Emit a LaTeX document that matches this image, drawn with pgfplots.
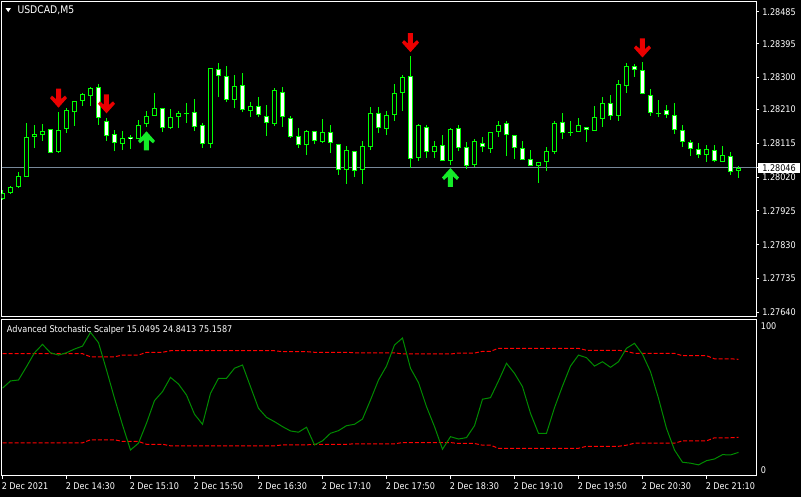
\documentclass[border=0pt]{standalone}
\usepackage{pgfplots}
\pgfplotsset{compat=1.18}
\usepackage{pgfplotstable}
\usepackage{fontspec}
\setmainfont{DejaVu Sans}[FakeStretch=0.88]
\definecolor{cgreen}{RGB}{0,255,0}
\definecolor{stochgreen}{RGB}{0,140,0}
\definecolor{pline}{RGB}{119,136,153}
\definecolor{arrred}{RGB}{235,0,0}
\definecolor{arrgreen}{RGB}{20,235,40}
\newcommand\axfont{\fontsize{6.9}{8}\selectfont}

\pgfdeclareplotmark{dnarrow}{%
 \pgfpathmoveto{\pgfpoint{-1.875pt}{7.125pt}}%
 \pgfpathlineto{\pgfpoint{1.875pt}{7.125pt}}%
 \pgfpathlineto{\pgfpoint{1.875pt}{-0.75pt}}%
 \pgfpathlineto{\pgfpoint{4.875pt}{1.875pt}}%
 \pgfpathlineto{\pgfpoint{6.375pt}{0pt}}%
 \pgfpathlineto{\pgfpoint{0pt}{-7.125pt}}%
 \pgfpathlineto{\pgfpoint{-6.375pt}{0pt}}%
 \pgfpathlineto{\pgfpoint{-4.875pt}{1.875pt}}%
 \pgfpathlineto{\pgfpoint{-1.875pt}{-0.75pt}}%
 \pgfpathclose
 \pgfusepathqfill}
\pgfdeclareplotmark{uparrow}{%
 \pgfpathmoveto{\pgfpoint{-1.875pt}{-7.125pt}}%
 \pgfpathlineto{\pgfpoint{1.875pt}{-7.125pt}}%
 \pgfpathlineto{\pgfpoint{1.875pt}{0.75pt}}%
 \pgfpathlineto{\pgfpoint{4.875pt}{-1.875pt}}%
 \pgfpathlineto{\pgfpoint{6.375pt}{0pt}}%
 \pgfpathlineto{\pgfpoint{0pt}{7.125pt}}%
 \pgfpathlineto{\pgfpoint{-6.375pt}{0pt}}%
 \pgfpathlineto{\pgfpoint{-4.875pt}{-1.875pt}}%
 \pgfpathlineto{\pgfpoint{-1.875pt}{0.75pt}}%
 \pgfpathclose
 \pgfusepathqfill}

\pgfplotstableread{
k O H L C
0 1.27959 1.27984 1.27956 1.27975
1 1.27975 1.27995 1.27973 1.27992
2 1.27992 1.28034 1.27989 1.28023
3 1.28020 1.28172 1.28020 1.28133
4 1.28133 1.28167 1.28102 1.28141
5 1.28138 1.28169 1.28122 1.28150
6 1.28155 1.28155 1.28088 1.28088
7 1.28091 1.28203 1.28088 1.28152
8 1.28155 1.28214 1.28144 1.28209
9 1.28203 1.28234 1.28164 1.28234
10 1.28234 1.28256 1.28220 1.28254
11 1.28248 1.28273 1.28220 1.28271
12 1.28273 1.28282 1.28167 1.28186
13 1.28178 1.28186 1.28122 1.28136
14 1.28141 1.28152 1.28093 1.28116
15 1.28113 1.28150 1.28096 1.28130
16 1.28133 1.28138 1.28099 1.28127
17 1.28127 1.28181 1.28127 1.28167
18 1.28169 1.28206 1.28161 1.28192
19 1.28192 1.28256 1.28192 1.28214
20 1.28214 1.28214 1.28147 1.28158
21 1.28158 1.28212 1.28155 1.28189
22 1.28189 1.28206 1.28158 1.28200
23 1.28197 1.28228 1.28172 1.28200
24 1.28203 1.28240 1.28150 1.28161
25 1.28167 1.28172 1.28102 1.28113
26 1.28113 1.28327 1.28102 1.28327
27 1.28324 1.28341 1.28245 1.28304
28 1.28304 1.28332 1.28231 1.28237
29 1.28237 1.28307 1.28214 1.28276
30 1.28279 1.28313 1.28203 1.28209
31 1.28206 1.28231 1.28189 1.28220
32 1.28220 1.28245 1.28189 1.28195
33 1.28192 1.28223 1.28136 1.28172
34 1.28169 1.28271 1.28164 1.28265
35 1.28259 1.28273 1.28161 1.28189
36 1.28186 1.28192 1.28130 1.28133
37 1.28136 1.28158 1.28102 1.28110
38 1.28110 1.28152 1.28082 1.28150
39 1.28150 1.28150 1.28113 1.28122
40 1.28119 1.28183 1.28116 1.28147
41 1.28147 1.28167 1.28088 1.28116
42 1.28113 1.28113 1.28026 1.28040
43 1.28040 1.28108 1.28001 1.28096
44 1.28093 1.28093 1.28020 1.28037
45 1.28040 1.28122 1.28001 1.28108
46 1.28105 1.28217 1.28096 1.28200
47 1.28200 1.28217 1.28144 1.28158
48 1.28155 1.28206 1.28138 1.28195
49 1.28195 1.28282 1.28178 1.28256
50 1.28256 1.28307 1.28206 1.28302
51 1.28304 1.28360 1.28046 1.28071
52 1.28074 1.28169 1.28065 1.28167
53 1.28161 1.28167 1.28074 1.28091
54 1.28091 1.28122 1.28074 1.28108
55 1.28110 1.28138 1.28065 1.28065
56 1.28065 1.28158 1.28054 1.28155
57 1.28158 1.28167 1.28093 1.28102
58 1.28105 1.28119 1.28043 1.28051
59 1.28054 1.28127 1.28048 1.28122
60 1.28116 1.28133 1.28091 1.28105
61 1.28099 1.28147 1.28088 1.28147
62 1.28147 1.28178 1.28133 1.28167
63 1.28172 1.28178 1.28079 1.28138
64 1.28138 1.28138 1.28071 1.28102
65 1.28102 1.28122 1.28068 1.28068
66 1.28071 1.28096 1.28051 1.28051
67 1.28051 1.28063 1.28004 1.28063
68 1.28063 1.28105 1.28037 1.28093
69 1.28091 1.28178 1.28085 1.28172
70 1.28175 1.28200 1.28127 1.28144
71 1.28147 1.28178 1.28136 1.28144
72 1.28147 1.28186 1.28147 1.28167
73 1.28161 1.28161 1.28119 1.28152
74 1.28150 1.28220 1.28150 1.28189
75 1.28183 1.28245 1.28161 1.28228
76 1.28228 1.28251 1.28181 1.28192
77 1.28192 1.28293 1.28178 1.28282
78 1.28276 1.28341 1.28256 1.28332
79 1.28332 1.28338 1.28302 1.28321
80 1.28321 1.28344 1.28254 1.28254
81 1.28251 1.28268 1.28192 1.28200
82 1.28197 1.28237 1.28189 1.28200
83 1.28209 1.28223 1.28186 1.28195
84 1.28195 1.28228 1.28141 1.28152
85 1.28152 1.28167 1.28105 1.28119
86 1.28119 1.28124 1.28079 1.28099
87 1.28099 1.28116 1.28074 1.28082
88 1.28082 1.28110 1.28063 1.28099
89 1.28096 1.28110 1.28063 1.28065
90 1.28063 1.28108 1.28063 1.28082
91 1.28079 1.28091 1.28026 1.28034
92 1.28037 1.28051 1.28018 1.28046
}\candles

\pgfplotstableread{
k m u l
0 56.5 78.8 21.2
1 61.2 78.8 21.2
2 61.8 78.8 21.2
3 70.4 78.8 21.2
4 79.4 78.8 21.2
5 84.8 78.8 21.2
6 79.4 78.8 21.2
7 77.9 78.8 21.2
8 79.4 78.8 21.2
9 81.8 78.8 21.2
10 83.7 78.8 21.2
11 92.6 76.8 23.2
12 85.9 76.8 23.2
13 68.3 76.8 23.2
14 50.0 76.8 23.2
15 32.8 77.9 22.1
16 16.6 77.9 22.1
17 21.0 77.9 22.1
18 33.9 79.7 20.3
19 48.5 79.7 20.3
20 54.3 79.7 20.3
21 63.5 80.7 19.3
22 59.2 80.7 19.3
23 52.1 80.7 19.3
24 39.7 80.7 19.3
25 33.2 80.7 19.3
26 53.2 80.7 19.3
27 62.9 80.7 19.3
28 62.9 80.7 19.3
29 69.4 80.7 19.3
30 71.5 80.7 19.3
31 57.5 80.7 19.3
32 43.5 80.7 19.3
33 37.7 80.7 19.3
34 34.9 80.7 19.3
35 31.7 80.1 19.9
36 28.9 80.1 19.9
37 28.1 80.1 19.9
38 31.3 80.1 19.9
39 19.9 79.7 20.3
40 22.5 79.7 20.3
41 27.4 79.7 20.3
42 29.1 79.7 20.3
43 32.3 79.7 20.3
44 33.2 79.4 20.6
45 36.6 79.4 20.6
46 48.9 79.4 20.6
47 61.8 79.4 20.6
48 70.8 79.4 20.6
49 84.4 79.4 20.6
50 88.9 78.6 21.4
51 69.4 78.6 21.4
52 60.1 78.6 21.4
53 44.6 78.6 21.4
54 31.7 78.6 21.4
55 17.1 78.6 21.4
56 25.2 78.6 21.4
57 23.7 79.2 20.8
58 24.6 79.2 20.8
59 32.3 79.2 20.8
60 49.4 80.3 19.7
61 50.4 80.3 19.7
62 61.2 82.3 17.7
63 72.6 82.3 17.7
64 66.1 82.3 17.7
65 57.5 82.3 17.7
66 40.3 82.3 17.7
67 27.4 82.3 17.7
68 27.4 82.3 17.7
69 43.9 82.3 17.7
70 57.9 82.3 17.7
71 70.8 82.3 17.7
72 77.9 82.3 17.7
73 76.2 81.0 19.0
74 70.8 81.0 19.0
75 73.6 81.0 19.0
76 70.0 81.0 19.0
77 73.6 81.0 19.0
78 82.3 80.3 19.7
79 85.5 79.0 21.0
80 78.4 79.0 21.0
81 67.2 79.0 21.0
82 50.0 79.0 21.0
83 30.6 79.0 21.0
84 16.6 79.0 21.0
85 8.7 77.5 22.5
86 8.1 77.5 22.5
87 7.0 77.5 22.5
88 9.7 77.5 22.5
89 10.8 75.5 24.5
90 13.6 75.5 24.5
91 13.4 75.5 24.5
92 15.05 75.16 24.84
}\stoch

\begin{document}
\begin{tikzpicture}
\path[use as bounding box, fill=black] (0,0) rectangle (600.75pt,-372.75pt);
\begin{axis}[
  scale only axis, width=565.725pt, height=236.25pt,
  at={(1.275pt,-237.525pt)}, anchor=south west,
  xmin=-0.1, xmax=94.19, ymin=1.276277, ymax=1.285131,
  axis line style={white, line width=0.75pt},
  xtick=\empty,
  ytick={1.27640,1.27735,1.27830,1.27925,1.28020,1.28115,1.28210,1.28300,1.28395,1.28485},
  yticklabels={1.27640,1.27735,1.27830,1.27925,1.28020,1.28115,1.28210,1.28300,1.28395,1.28485},
  ytick pos=right,
  tick align=outside, major tick length=2.25pt,
  tick style={white, line width=0.75pt},
  yticklabel style={font=\axfont, text=white, anchor=west, inner sep=0pt, xshift=2.25pt},
  extra y ticks={1.28046}, extra y tick labels={1.28046},
  extra y tick style={grid=major, major grid style={pline, line width=0.75pt},
    yticklabel style={fill=white, text=black, inner xsep=3.4pt, inner ysep=1.2pt, xshift=-3.4pt}},
]
\addplot[draw=none, forget plot, error bars/.cd, y dir=plus, y explicit, error mark=none,
  error bar style={draw=cgreen, line width=0.75pt, solid}]
  table[x=k, y=L, y error plus expr={\thisrow{H}-\thisrow{L}}] {\candles};
\addplot[draw=none, forget plot, error bars/.cd, y dir=plus, y explicit, error mark=none,
  error bar style={draw=cgreen, line width=3.75pt, solid}]
  table[x=k, y expr={min(\thisrow{O},\thisrow{C})}, y error plus expr={abs(\thisrow{C}-\thisrow{O})}] {\candles};
\addplot[draw=none, forget plot, error bars/.cd, y dir=plus, y explicit, error mark=none,
  error bar style={draw=black, line width=2.25pt, solid, shorten <=0.75pt, shorten >=0.75pt}]
  table[x=k, y expr={(\thisrow{C}-\thisrow{O}>0.00005) ? \thisrow{O} : nan}, y error plus expr={\thisrow{C}-\thisrow{O}}] {\candles};
\addplot[draw=none, forget plot, error bars/.cd, y dir=plus, y explicit, error mark=none,
  error bar style={draw=white, line width=2.25pt, solid, shorten <=0.75pt, shorten >=0.75pt}]
  table[x=k, y expr={(\thisrow{O}-\thisrow{C}>0.00005) ? \thisrow{C} : nan}, y error plus expr={\thisrow{O}-\thisrow{C}}] {\candles};
\addplot[only marks, mark=dnarrow, color=arrred] coordinates {(7,1.28242) (13,1.28226) (51,1.28398) (80,1.28383)};
\addplot[only marks, mark=uparrow, color=arrgreen] coordinates {(18,1.28122) (56,1.28019)};
\end{axis}
\begin{axis}[
  scale only axis, width=565.725pt, height=117.3pt,
  at={(1.275pt,-356.775pt)}, anchor=south west,
  xmin=-0.1, xmax=94.19, ymin=0, ymax=101,
  axis line style={white, line width=0.75pt},
  xtick={0,8,16,24,32,40,48,56,64,72,80,88},
  xticklabels={2 Dec 2021,2 Dec 14:30,2 Dec 15:10,2 Dec 15:50,2 Dec 16:30,2 Dec 17:10,2 Dec 17:50,2 Dec 18:30,2 Dec 19:10,2 Dec 19:50,2 Dec 20:30,2 Dec 21:10},
  xtick pos=bottom, ytick pos=right,
  tick align=outside, major tick length=2.5pt,
  tick style={white, line width=0.75pt},
  y tick style={draw=none},
  ytick={96.6,3.9}, yticklabels={100,0},
  xticklabel style={font=\axfont, text=white, anchor=base west, inner sep=0pt, xshift=-0.75pt, yshift=-7.475pt},
  yticklabel style={font=\axfont, text=white, anchor=west, inner sep=0pt, xshift=1pt},
]
\addplot[red, line width=0.75pt, dash pattern=on 3pt off 1.5pt] table[x=k, y=u] {\stoch};
\addplot[red, line width=0.75pt, dash pattern=on 3pt off 1.5pt] table[x=k, y=l] {\stoch};
\addplot[stochgreen, line width=0.75pt] table[x=k, y=m] {\stoch};
\end{axis}
\fill[white] (4.125pt,-6pt) -- (8.25pt,-6pt) -- (6.1875pt,-9pt) -- cycle;
\node[anchor=base west, inner sep=0pt, text=white, font=\fontsize{7.9}{9}\selectfont] at (12.975pt,-9.975pt) {USDCAD,M5};
\node[anchor=base west, inner sep=0pt, text=white, font=\axfont] at (5.025pt,-249pt) {Advanced Stochastic Scalper 15.0495 24.8413 75.1587};
\end{tikzpicture}
\end{document}
